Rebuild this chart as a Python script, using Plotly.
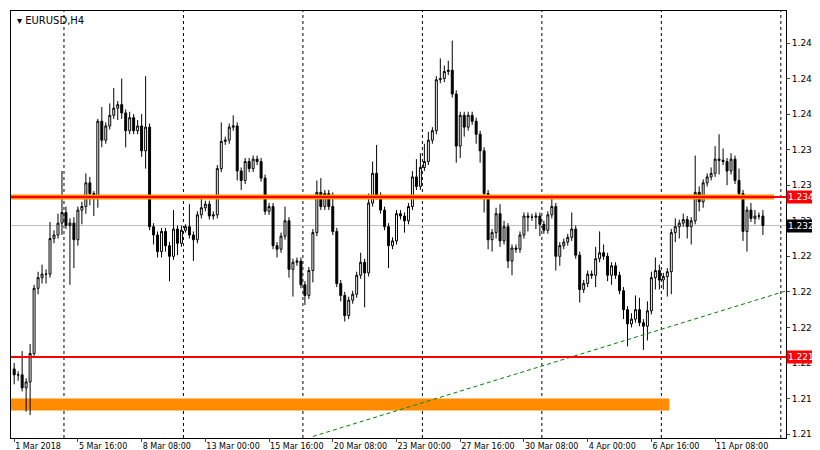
import plotly.graph_objects as go

# EURUSD H4 closes
closes = [
    1.2195, 1.2195, 1.2184, 1.2189, 1.2213, 1.2268, 1.2277, 1.2280, 1.2280, 1.2310,
    1.2313, 1.2323, 1.2332, 1.2321, 1.2323, 1.2309, 1.2334, 1.2337, 1.2357, 1.2348,
    1.2344, 1.2409, 1.2393, 1.2405, 1.2414, 1.2420, 1.2423, 1.2416, 1.2401, 1.2412,
    1.2401, 1.2405, 1.2384, 1.2404, 1.2320, 1.2313, 1.2299, 1.2316, 1.2304, 1.2295,
    1.2318, 1.2306, 1.2317, 1.2320, 1.2313, 1.2309, 1.2330, 1.2336, 1.2339, 1.2329,
    1.2330, 1.2369, 1.2392, 1.2393, 1.2404, 1.2405, 1.2367, 1.2359, 1.2375, 1.2369,
    1.2377, 1.2375, 1.2361, 1.2333, 1.2337, 1.2304, 1.2301, 1.2312, 1.2325, 1.2284,
    1.2290, 1.2291, 1.2271, 1.2262, 1.2283, 1.2315, 1.2349, 1.2337, 1.2348, 1.2337,
    1.2316, 1.2272, 1.2262, 1.2245, 1.2258, 1.2263, 1.2279, 1.2290, 1.2281, 1.2340,
    1.2365, 1.2346, 1.2334, 1.2320, 1.2304, 1.2308, 1.2331, 1.2329, 1.2325, 1.2337,
    1.2362, 1.2354, 1.2370, 1.2375, 1.2393, 1.2401, 1.2444, 1.2445, 1.2451, 1.2452,
    1.2432, 1.2388, 1.2414, 1.2404, 1.2414, 1.2409, 1.2398, 1.2384, 1.2348, 1.2309,
    1.2315, 1.2331, 1.2308, 1.2320, 1.2291, 1.2302, 1.2301, 1.2313, 1.2329, 1.2328,
    1.2328, 1.2329, 1.2322, 1.2317, 1.2330, 1.2337, 1.2295, 1.2304, 1.2307, 1.2311,
    1.2318, 1.2296, 1.2267, 1.2272, 1.2280, 1.2279, 1.2293, 1.2298, 1.2295, 1.2279,
    1.2287, 1.2279, 1.2266, 1.2250, 1.2238, 1.2242, 1.2250, 1.2239, 1.2236, 1.2249,
    1.2277, 1.2283, 1.2275, 1.2278, 1.2282, 1.2315, 1.2320, 1.2323, 1.2326, 1.2320,
    1.2325, 1.2349, 1.2341, 1.2357, 1.2362, 1.2365, 1.2377, 1.2376, 1.2375, 1.2367,
    1.2377, 1.2359, 1.2348, 1.2316, 1.2334, 1.2327, 1.2329, 1.2329, 1.2321,
]
first_open = 1.2200

# upper / lower shadow length in pips
wick_up = [
    5, 3, 20, 3, 8, 3, 5, 8, 4, 14,
    4, 8, 35, 5, 4, 5, 3, 4, 8, 5,
    2, 2, 12, 3, 10, 17, 3, 22, 3, 5,
    3, 5, 10, 43, 3, 3, 3, 3, 3, 3,
    16, 3, 4, 2, 19, 3, 3, 10, 3, 3,
    3, 3, 16, 3, 3, 9, 3, 3, 3, 3,
    3, 3, 3, 3, 3, 3, 3, 3, 12, 3,
    3, 3, 3, 3, 3, 3, 10, 12, 3, 3,
    12, 3, 3, 3, 3, 3, 3, 8, 3, 8,
    10, 24, 3, 3, 3, 3, 3, 3, 3, 3,
    5, 15, 12, 15, 7, 3, 3, 17, 5, 8,
    25, 3, 3, 3, 3, 3, 3, 3, 3, 3,
    3, 5, 8, 5, 3, 3, 3, 3, 3, 3,
    3, 3, 3, 3, 3, 10, 3, 3, 3, 3,
    14, 3, 3, 3, 3, 3, 10, 18, 7, 3,
    3, 3, 3, 3, 3, 5, 12, 10, 3, 8,
    5, 11, 5, 3, 3, 3, 7, 3, 5, 3,
    3, 31, 5, 3, 3, 5, 11, 21, 10, 3,
    5, 3, 10, 3, 3, 6, 5, 3, 5,
]
wick_dn = [
    8, 5, 3, 20, 28, 2, 5, 5, 8, 3,
    4, 3, 10, 3, 50, 24, 5, 12, 6, 10,
    15, 8, 6, 3, 3, 3, 10, 5, 14, 3,
    3, 3, 5, 15, 3, 8, 5, 5, 5, 21,
    3, 10, 3, 2, 3, 18, 3, 3, 3, 3,
    3, 3, 3, 3, 3, 3, 8, 8, 3, 3,
    3, 3, 3, 3, 3, 3, 7, 3, 3, 7,
    23, 3, 3, 8, 3, 10, 3, 3, 3, 3,
    3, 3, 5, 5, 3, 3, 3, 3, 29, 3,
    3, 3, 3, 3, 19, 3, 3, 3, 10, 3,
    3, 3, 3, 3, 3, 3, 3, 3, 3, 3,
    3, 14, 10, 8, 3, 3, 8, 10, 16, 8,
    10, 5, 5, 3, 6, 12, 3, 3, 3, 12,
    3, 10, 10, 3, 3, 3, 12, 8, 3, 3,
    3, 3, 11, 3, 3, 3, 10, 3, 3, 5,
    8, 3, 3, 8, 19, 3, 3, 3, 20, 12,
    3, 10, 8, 8, 17, 19, 8, 10, 3, 10,
    15, 3, 8, 5, 3, 3, 3, 12, 3, 12,
    3, 3, 3, 8, 17, 3, 5, 3, 8,
]

date_labels = ["1 Mar 2018", "5 Mar 16:00", "8 Mar 08:00", "13 Mar 00:00", "15 Mar 16:00",
               "20 Mar 08:00", "23 Mar 00:00", "27 Mar 16:00", "30 Mar 08:00", "4 Apr 00:00",
               "6 Apr 16:00", "11 Apr 08:00"]
label_bars = [0, 16, 32, 48, 64, 80, 96, 112, 128, 144, 160, 176]
week_bars = [12.5, 42.5, 72.5, 102.5, 132.5, 162.5, 192.5]
price_ticks = [1.2145, 1.2175, 1.2205, 1.2235, 1.2265, 1.2295, 1.2325, 1.2355, 1.2385, 1.2415, 1.2445, 1.2475]

resistance = 1.2345
support = 1.2210
last_price = 1.2321
zone = [1.2165, 1.2175]      # orange band
zone_end_bar = 164.5
trend_bars = [75, 194]
trend_prices = [1.2143, 1.2266]

pip = 0.0001
x = list(range(len(closes)))
opens = [first_open] + closes[:-1]
highs = [max(o, c) + u * pip for o, c, u in zip(opens, closes, wick_up)]
lows = [min(o, c) - d * pip for o, c, d in zip(opens, closes, wick_dn)]

x_range = [-0.8, 193.8]
y_range = [1.21417, 1.25020]

fig = go.Figure()

shapes = []
for wb in week_bars:
    shapes.append(dict(type="line", xref="x", yref="paper", x0=wb, x1=wb, y0=0, y1=1,
                       line=dict(color="black", width=1, dash="3px,3px"), layer="below"))
shapes += [
    dict(type="line", xref="paper", yref="y", x0=0, x1=1, y0=last_price, y1=last_price,
         line=dict(color="#c0c0c0", width=1), layer="below"),
    dict(type="rect", xref="x", yref="y", x0=x_range[0], x1=zone_end_bar, y0=zone[0], y1=zone[1],
         fillcolor="#ff8c00", line=dict(width=0), layer="below"),
    dict(type="line", xref="x", yref="y", x0=x_range[0], x1=190.8, y0=resistance, y1=resistance,
         line=dict(color="#ff8c00", width=5), layer="above"),
    dict(type="line", xref="paper", yref="y", x0=0, x1=1, y0=resistance, y1=resistance,
         line=dict(color="red", width=2), layer="above"),
    dict(type="line", xref="paper", yref="y", x0=0, x1=1, y0=support, y1=support,
         line=dict(color="red", width=2), layer="above"),
]

fig.add_trace(go.Scatter(x=trend_bars, y=trend_prices, mode="lines", hoverinfo="skip",
                         line=dict(color="green", width=1, dash="4px,3px"), showlegend=False))

fig.add_trace(go.Candlestick(
    x=x, open=opens, high=highs, low=lows, close=closes,
    increasing=dict(fillcolor="white", line=dict(color="black", width=1)),
    decreasing=dict(fillcolor="black", line=dict(color="black", width=1)),
    whiskerwidth=0, showlegend=False,
))

annotations = [
    dict(xref="paper", yref="paper", x=0.005, y=0.995, xanchor="left", yanchor="top",
         text="▾ EURUSD,H4", showarrow=False, font=dict(size=10, color="black")),
]
for val, bg in [(resistance, "red"), (support, "red"), (last_price, "black")]:
    annotations.append(dict(xref="paper", yref="y", x=1, y=val, xanchor="left", yanchor="middle",
                            text=f"{val:.4f}", showarrow=False, bgcolor=bg, borderpad=1,
                            font=dict(size=9, color="white"), xshift=0))

fig.update_layout(
    width=820, height=450,
    margin=dict(l=3, r=42, t=3, b=20, autoexpand=False),
    paper_bgcolor="white", plot_bgcolor="white",
    font=dict(family="DejaVu Sans", size=9, color="black"),
    shapes=shapes, annotations=annotations,
    showlegend=False,
)
fig.update_xaxes(range=x_range, rangeslider_visible=False, showgrid=False, zeroline=False,
                 tickvals=label_bars, ticktext=date_labels, ticks="outside", ticklen=3,
                 tickangle=0, automargin=False, tickfont=dict(size=8),
                 ticklabelposition="outside right", showline=True, linecolor="black", mirror=True)
fig.update_yaxes(range=y_range, side="right", showgrid=False, zeroline=False,
                 tickvals=price_ticks, ticktext=[f"{p:.4f}" for p in price_ticks],
                 ticks="outside", ticklen=3, automargin=False,
                 showline=True, linecolor="black", mirror=True)

fig.write_html("out.html")
